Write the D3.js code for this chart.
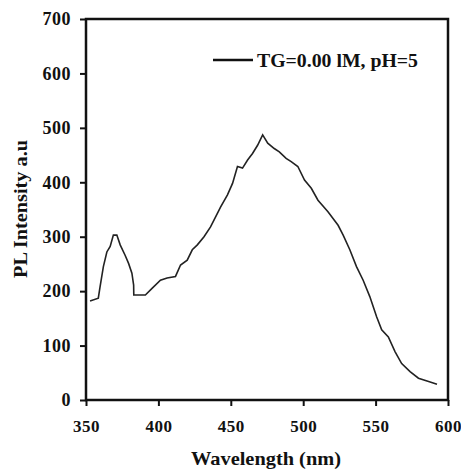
<!DOCTYPE html>
<html>
<head>
<meta charset="utf-8">
<script src="https://cdn.jsdelivr.net/npm/d3@7"></script>
<style>
body {margin:0;background:#fff;}
svg text {font-family:"Liberation Serif","Times New Roman",serif;font-weight:bold;fill:#111;}
</style>
</head>
<body>
<svg id="chart" width="461" height="472"></svg>
<script>
// spectrum
var wavelength = [352.8,358.5,359.7,362,364.4,366.7,368.9,371.3,373.6,377,379.4,381.7,382.9,383,386.3,391,395.6,401.4,406,411.8,415.3,419.9,423.4,426.9,431.5,436,439.6,443,447.7,451.2,454.6,458.1,461.6,465,468.5,472,475.5,480,483.5,488.2,491.7,496.3,500.9,505.6,510.2,517.1,524.1,527.6,532.2,536.8,541.4,546,550.7,554.2,558.8,563.4,568,573.8,579.6,586.6,592.4];
var intensity = [182,187,208,245,272,282,303,303,285,266,251,233,211,193,193,193,205,220,224,227,248,257,276,285,300,318,337,355,377,398,429,426,441,453,468,487,472,462,456,444,438,429,404,389,367,346,321,303,276,245,220,190,153,129,116,89,67,52,40,34,29];
var xTicks = [350,400,450,500,550,600];
var yTicks = [0,100,200,300,400,500,600,700];
var seriesLabel = "TG=0.00 lM, pH=5";

var svg = d3.select("#chart");
var pLeft = 86, pRight = 448, pTop = 19, pBottom = 400;

var x = d3.scaleLinear().domain([350,600]).range([pLeft,pRight]);
var y = d3.scaleLinear().domain([0,700]).range([pBottom,pTop]);

// frame
svg.append("rect").attr("x",pLeft).attr("y",pTop).attr("width",pRight-pLeft).attr("height",pBottom-pTop)
  .attr("fill","none").attr("stroke","#111").attr("stroke-width",2.5);

var xAxis = svg.append("g").attr("transform","translate(0,"+pBottom+")")
  .call(d3.axisBottom(x).tickValues(xTicks).tickSize(6).tickPadding(14))
xAxis.select(".domain").remove();
xAxis.selectAll("line").attr("stroke","#111").attr("stroke-width",2);
xAxis.selectAll("text").style("font-size","17px").attr("fill","#111").style("letter-spacing","0.5px");

var yAxis = svg.append("g").attr("transform","translate("+pLeft+",0)")
  .call(d3.axisLeft(y).tickValues(yTicks).tickSize(6).tickPadding(9))
yAxis.select(".domain").remove();
yAxis.selectAll("line").attr("stroke","#111").attr("stroke-width",2);
yAxis.selectAll("text").style("font-size","18px").attr("fill","#111").style("letter-spacing","0.5px");

// curve
var pts = wavelength.map(function(d,i) {return [d,intensity[i]]});
svg.append("path").datum(pts)
  .attr("fill","none").attr("stroke","#222").attr("stroke-width",1.6)
  .attr("d", d3.line().x(function(d) {return x(d[0])}).y(function(d) {return y(d[1])}));

// legend
svg.append("line").attr("x1",213).attr("x2",253).attr("y1",60).attr("y2",60)
  .attr("stroke","#111").attr("stroke-width",2.5);
svg.append("text").attr("x",257).attr("y",67).style("font-size","19px")
  .attr("textLength",161).attr("lengthAdjust","spacingAndGlyphs").text(seriesLabel);

// axis titles
svg.append("text").attr("x",266).attr("y",465).attr("text-anchor","middle")
  .style("font-size","19px").attr("textLength",150).attr("lengthAdjust","spacingAndGlyphs").text("Wavelength (nm)");
svg.append("text").attr("transform","translate(27,209) rotate(-90)").attr("text-anchor","middle")
  .style("font-size","19px").attr("textLength",138).attr("lengthAdjust","spacingAndGlyphs").text("PL Intensity a.u");
</script>
</body>
</html>
